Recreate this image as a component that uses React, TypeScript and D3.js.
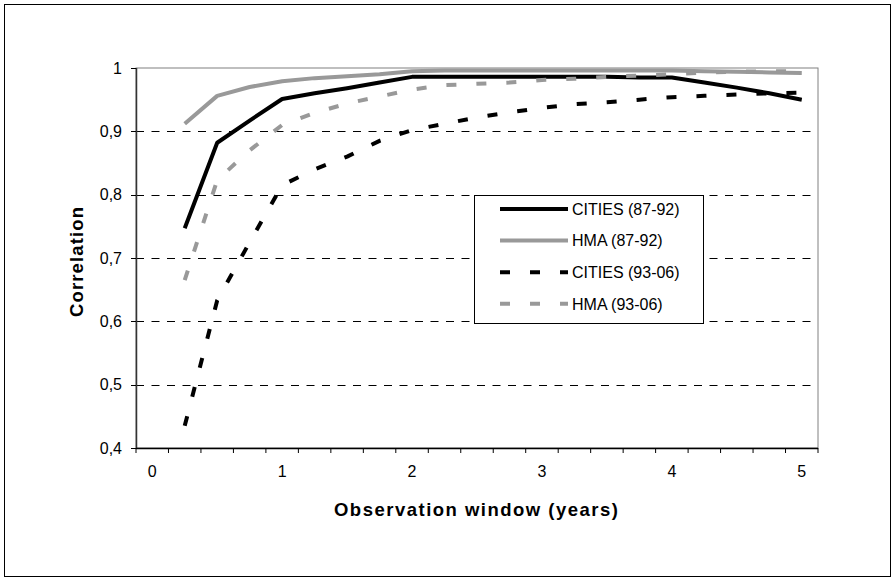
import React from "react";
import * as d3 from "d3";

// Observation windows in years (category axis)
const windows = [0, 0.25, 0.5, 0.75, 1, 1.25, 1.5, 1.75, 2, 2.25, 2.5, 2.75, 3, 3.25, 3.5, 3.75, 4, 4.25, 4.5, 4.75, 5];

const citiesEarly = [null, 0.747, 0.882, 0.917, 0.951, 0.96, 0.968, 0.977, 0.986, 0.986, 0.986, 0.986, 0.986, 0.986, 0.986, 0.985, 0.985, 0.977, 0.969, 0.96, 0.95];
const hmaEarly = [null, 0.912, 0.956, 0.97, 0.979, 0.984, 0.987, 0.99, 0.995, 0.996, 0.996, 0.996, 0.996, 0.996, 0.996, 0.996, 0.996, 0.995, 0.994, 0.993, 0.992];
const citiesLate = [null, 0.435, 0.633, 0.725, 0.815, 0.84, 0.86, 0.885, 0.902, 0.912, 0.922, 0.93, 0.937, 0.943, 0.946, 0.95, 0.954, 0.956, 0.958, 0.96, 0.961];
const hmaLate = [null, 0.665, 0.823, 0.87, 0.91, 0.929, 0.944, 0.955, 0.966, 0.973, 0.975, 0.977, 0.981, 0.983, 0.986, 0.988, 0.99, 0.993, 0.994, 0.995, 0.995];

const seriesNames = ["CITIES (87-92)", "HMA (87-92)", "CITIES (93-06)", "HMA (93-06)"];
const seriesValues = [citiesEarly, hmaEarly, citiesLate, hmaLate];

const yTicks = [0.4, 0.5, 0.6, 0.7, 0.8, 0.9, 1];
const xLabelYears = [0, 1, 2, 3, 4, 5];

const W = 895;
const H = 581;
const plot = { left: 136, right: 818, top: 68, bottom: 448 };
const FONT = "'Liberation Sans', Arial, sans-serif";
const GREY = "#999999";

const seriesStyle = [
  { color: "#000000", dash: undefined },
  { color: GREY, dash: undefined },
  { color: "#000000", dash: "10 20" },
  { color: GREY, dash: "10 20" },
];

const locale = d3.formatLocale({ decimal: ",", thousands: ".", grouping: [3], currency: ["", "€"] });
const fmtY = locale.format("~g");

export default function App() {
  const x = d3
    .scaleBand<number>()
    .domain(windows)
    .range([plot.left, plot.right])
    .paddingInner(0)
    .paddingOuter(0);
  const y = d3.scaleLinear().domain([0.4, 1]).range([plot.bottom, plot.top]);
  const cx = (v: number) => (x(v) as number) + x.bandwidth() / 2;

  const line = d3
    .line<number | null>()
    .defined((d) => d !== null)
    .x((_, i) => cx(windows[i]))
    .y((d) => y(d as number));

  // tick marks sit on category boundaries
  const boundaries = windows.map((w) => x(w) as number).concat([plot.right]);

  const legend = { x: 474, y: 195, w: 229, h: 128 };
  const legendRowY = (i: number) => 209 + i * 31.6;

  return (
    <svg
      width={W}
      height={H}
      style={{ position: "absolute", left: 0, top: 0, background: "#fff" }}
      fontFamily={FONT}
    >
      <rect x={0} y={0} width={W} height={H} fill="#fff" />
      <rect x={4.5} y={4.5} width={886} height={572} fill="none" stroke="#000" strokeWidth={1} />

      {/* plot area frame */}
      <rect
        x={plot.left}
        y={plot.top}
        width={plot.right - plot.left}
        height={plot.bottom - plot.top}
        fill="#fff"
        stroke="#808080"
        strokeWidth={1}
      />

      {/* horizontal gridlines */}
      {yTicks
        .filter((t) => t > 0.4 && t < 1)
        .map((t) => (
          <line
            key={"g" + t}
            x1={plot.left}
            x2={plot.right}
            y1={Math.round(y(t)) + 0.5}
            y2={Math.round(y(t)) + 0.5}
            stroke="#000"
            strokeWidth={1}
            strokeDasharray="8 7.5"
          />
        ))}

      {/* y axis */}
      <line x1={plot.left + 0.5} x2={plot.left + 0.5} y1={plot.top} y2={plot.bottom} stroke="#333" strokeWidth={1.5} />
      {yTicks.map((t) => (
        <g key={"yt" + t}>
          <line
            x1={plot.left - 5}
            x2={plot.left}
            y1={Math.round(y(t)) + 0.5}
            y2={Math.round(y(t)) + 0.5}
            stroke="#000"
          />
          <text x={122} y={y(t)} dy="0.36em" textAnchor="end" fontSize={16} fill="#000">
            {fmtY(t)}
          </text>
        </g>
      ))}

      {/* x axis */}
      <line x1={plot.left} x2={plot.right} y1={plot.bottom + 0.5} y2={plot.bottom + 0.5} stroke="#000" strokeWidth={1.5} />
      {boundaries.map((b, i) => (
        <line key={"xt" + i} x1={b} x2={b} y1={plot.bottom} y2={plot.bottom + 5} stroke="#000" />
      ))}
      {xLabelYears.map((v) => (
        <text key={"xl" + v} x={cx(v)} y={477} textAnchor="middle" fontSize={16} fill="#000">
          {v}
        </text>
      ))}

      {/* series */}
      {seriesValues.map((vals, i) => (
        <path
          key={seriesNames[i]}
          d={line(vals) || ""}
          fill="none"
          stroke={seriesStyle[i].color}
          strokeWidth={4}
          strokeDasharray={seriesStyle[i].dash}
          strokeLinejoin="round"
        />
      ))}

      {/* axis titles */}
      <text
        x={476}
        y={516}
        textAnchor="middle"
        fontSize={18.5}
        fontWeight="bold"
        textLength={284}
        lengthAdjust="spacing"
        fill="#000"
      >
        Observation window (years)
      </text>
      <text
        transform={`translate(83, 262) rotate(-90)`}
        textAnchor="middle"
        fontSize={18.5}
        fontWeight="bold"
        textLength={110}
        lengthAdjust="spacing"
        fill="#000"
      >
        Correlation
      </text>

      {/* legend */}
      <rect
        x={legend.x + 0.5}
        y={legend.y + 0.5}
        width={legend.w}
        height={legend.h}
        fill="#fff"
        stroke="#000"
        strokeWidth={1}
      />
      {seriesNames.map((name, i) => (
        <g key={"lg" + name}>
          <line
            x1={500}
            x2={568}
            y1={legendRowY(i)}
            y2={legendRowY(i)}
            stroke={seriesStyle[i].color}
            strokeWidth={4}
            strokeDasharray={seriesStyle[i].dash}
          />
          <text x={572} y={legendRowY(i)} dy="0.36em" fontSize={16} fill="#000">
            {name}
          </text>
        </g>
      ))}
    </svg>
  );
}
